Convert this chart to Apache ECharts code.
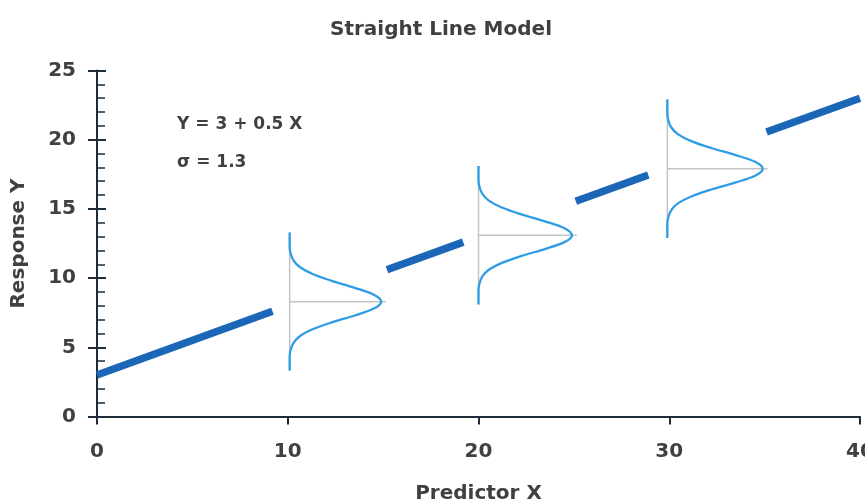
<!DOCTYPE html>
<html>
<head>
<meta charset="utf-8">
<script src="https://cdn.jsdelivr.net/npm/echarts@6/dist/echarts.min.js"></script>
<style>
html,body{margin:0;padding:0;background:#fff;}
#main{width:865px;height:500px;}
</style>
</head>
<body>
<div id="main"></div>
<script>
// ---- data ----
const xTicks = [0, 10, 20, 30, 40];
const yTicks = [0, 5, 10, 15, 20, 25];

// thick regression line, drawn in four pieces (gaps where the curves sit)
const lineSegStartX = [0, 15.2, 25.1, 35.1];
const lineSegStartY = [3.0, 10.6, 15.55, 20.55];
const lineSegEndX = [9.2, 19.2, 28.9, 40];
const lineSegEndY = [7.6, 12.6, 17.45, 23.0];

// the three error-distribution curves
const curveCenterX = [10.1, 20.0, 29.9];
const curveMeanY = [8.3, 13.1, 17.9];
const curvePeakWidth = [4.8, 4.9, 5.0];
const curveOffsets = [-5, -4, -3.5, -3, -2.5, -2, -1.5, -1, -0.5, 0, 0.5, 1, 1.5, 2, 2.5, 3, 3.5, 4, 5];
const curveShape = [0, 0, 0.01, 0.04, 0.11, 0.25, 0.46, 0.71, 0.92, 1, 0.92, 0.71, 0.46, 0.25, 0.11, 0.04, 0.01, 0, 0];

const annotationLines = ['Y = 3 + 0.5 X', 'σ = 1.3'];

// ---- styles ----
const FONT = 'DejaVu Sans';
const TEXT = '#404040';
const AXIS = '#1e2b3a';
const THICK = '#1c66b8';
const CURVE = '#2f9de4';
const GRAY = '#c4c4c4';

const chart = echarts.init(document.getElementById('main'), null, {renderer: 'canvas'});

const series = [];
curveCenterX.forEach((cx, i) => {
  const my = curveMeanY[i];
  series.push({
    type: 'line', symbol: 'none', silent: true, z: 2,
    lineStyle: {color: GRAY, width: 1.5},
    data: [[cx, my + curveOffsets[0]], [cx, my + curveOffsets[curveOffsets.length - 1]]]
  });
  series.push({
    type: 'line', symbol: 'none', silent: true, z: 2,
    lineStyle: {color: GRAY, width: 1.5},
    data: [[cx, my], [cx + curvePeakWidth[i] + 0.25, my]]
  });
  series.push({
    type: 'line', symbol: 'none', silent: true, z: 3, smooth: 0.35,
    lineStyle: {color: CURVE, width: 2.3},
    data: curveOffsets.map((d, k) => [cx + curvePeakWidth[i] * curveShape[k], my + d])
  });
});
lineSegStartX.forEach((sx, i) => {
  series.push({
    type: 'line', symbol: 'none', silent: true, z: 4,
    lineStyle: {color: THICK, width: 7.5, cap: 'butt'},
    data: [[sx, lineSegStartY[i]], [lineSegEndX[i], lineSegEndY[i]]]
  });
});

const labelStyle = {fontFamily: FONT, fontWeight: 'bold', fontSize: 20, color: TEXT};

chart.setOption({
  animation: false,
  backgroundColor: '#ffffff',
  title: {
    text: 'Straight Line Model',
    left: 436, top: 15, textAlign: 'center',
    textStyle: {fontFamily: FONT, fontWeight: 'bold', fontSize: 20, color: TEXT}
  },
  grid: {left: 97, right: 5, top: 70.5, bottom: 83.5, containLabel: false, outerBoundsMode: 'none'},
  xAxis: {
    type: 'value', min: xTicks[0], max: xTicks[xTicks.length - 1], interval: 10,
    name: 'Predictor X', nameLocation: 'middle', nameGap: 67,
    nameTextStyle: {fontFamily: FONT, fontWeight: 'bold', fontSize: 20, color: TEXT},
    axisLine: {lineStyle: {color: AXIS, width: 2}},
    axisTick: {length: 8, lineStyle: {color: AXIS, width: 2}},
    axisLabel: Object.assign({margin: 25, showMaxLabel: true}, labelStyle),
    splitLine: {show: false}
  },
  yAxis: [{
    type: 'value', min: yTicks[0], max: yTicks[yTicks.length - 1], interval: 5,
    name: 'Response Y', nameLocation: 'middle', nameGap: 68, nameRotate: 90,
    nameTextStyle: {fontFamily: FONT, fontWeight: 'bold', fontSize: 20, color: TEXT},
    axisLine: {show: true, lineStyle: {color: AXIS, width: 2}},
    axisTick: {show: true, inside: true, length: 9, lineStyle: {color: AXIS, width: 2}},
    minorTick: {show: true, splitNumber: 5, length: 8, lineStyle: {color: AXIS, width: 1.5}},
    axisLabel: Object.assign({margin: 21}, labelStyle),
    splitLine: {show: false}
  }, {
    type: 'value', min: yTicks[0], max: yTicks[yTicks.length - 1], interval: 5,
    position: 'left', offset: 0,
    axisLine: {show: false},
    axisTick: {show: true, inside: false, length: 9, lineStyle: {color: AXIS, width: 2}},
    axisLabel: {show: false},
    splitLine: {show: false}
  }],
  graphic: annotationLines.map((t, i) => ({
    type: 'text', left: 177, top: 116 + i * 38, silent: true,
    style: {text: t, fontFamily: FONT, fontWeight: 'bold', fontSize: 17, fill: TEXT}
  })),
  series: series
});
</script>
</body>
</html>
